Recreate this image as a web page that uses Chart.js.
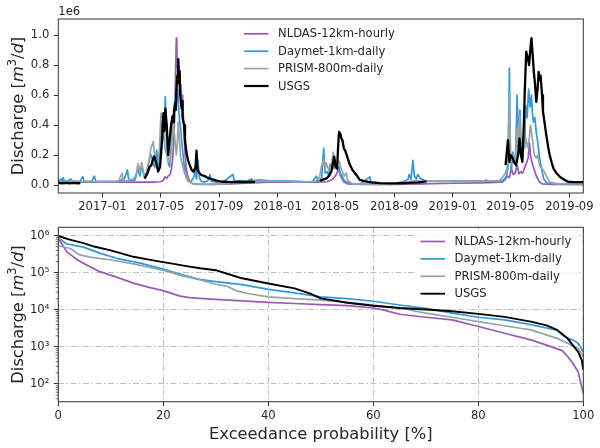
<!DOCTYPE html>
<html>
<head>
<meta charset="utf-8">
<script src="https://cdn.jsdelivr.net/npm/chart.js@4.4.0/dist/chart.umd.min.js"></script>
<style>
html, body { margin: 0; padding: 0; background: #fff; }
#wrap { position: relative; width: 600px; height: 448px; }
canvas { position: absolute; left: 0; top: 0; }
</style>
</head>
<body>
<div id="wrap">
  <canvas id="ts" width="600" height="448"></canvas>
  <canvas id="fdc" width="600" height="448"></canvas>
</div>
<script>
/*------------------------
~~~~~~~Chart data~~~~~~~
------------------------*/
// top panel: [days since 2016-10-01, discharge m3/d]
const startDate = '2016-10-01';
const seriesNames = ['NLDAS-12km-hourly', 'Daymet-1km-daily', 'PRISM-800m-daily', 'USGS'];
const seriesColors = ['#9b59b6', '#3498db', '#95a5a6', '#000000'];
const tsTickLabels = ['2017-01', '2017-05', '2017-09', '2018-01', '2018-05', '2018-09', '2019-01', '2019-05', '2019-09'];
const tsYTicks = [0, 200e3, 400e3, 600e3, 800e3, 1000e3];

const nldasFlow = [[0,20e3],[40,20e3],[92,20e3],[150,20e3],[200,20e3],[212,22e3],[218,28e3],[222,55e3],[226,45e3],[229,60e3],[233,70e3],[236,110e3],[239,200e3],[241,330e3],[243,520e3],[245,850e3],[246,980e3],[247,900e3],[248,800e3],[250,700e3],[251,730e3],[253,600e3],[255,670e3],[257,560e3],[259,600e3],[260,510e3],[262,350e3],[264,220e3],[266,120e3],[269,67e3],[273,30e3],[278,11e3],[290,6e3],[320,5e3],[360,8e3],[400,15e3],[440,20e3],[500,20e3],[540,20e3],[560,22e3],[570,35e3],[576,55e3],[580,75e3],[584,110e3],[587,70e3],[590,50e3],[595,20e3],[602,8e3],[640,4e3],[700,4e3],[760,8e3],[820,12e3],[880,15e3],[925,20e3],[932,40e3],[936,60e3],[940,50e3],[944,110e3],[948,70e3],[952,80e3],[956,130e3],[960,75e3],[964,90e3],[968,80e3],[972,120e3],[976,150e3],[979,180e3],[982,280e3],[984,200e3],[987,150e3],[990,120e3],[993,90e3],[996,60e3],[999,44e3],[1003,20e3],[1008,8e3],[1030,4e3],[1094,3e3]];

const daymetFlow = [[0,25e3],[5,40e3],[8,25e3],[10,50e3],[13,25e3],[20,28e3],[26,40e3],[29,25e3],[45,25e3],[51,55e3],[54,25e3],[70,25e3],[75,60e3],[78,25e3],[100,25e3],[120,25e3],[130,30e3],[133,40e3],[136,25e3],[144,100e3],[147,30e3],[160,35e3],[166,110e3],[170,60e3],[174,130e3],[180,50e3],[186,100e3],[190,180e3],[194,200e3],[198,140e3],[201,120e3],[205,233e3],[208,110e3],[212,250e3],[215,420e3],[219,300e3],[221,380e3],[223,590e3],[226,250e3],[229,150e3],[232,120e3],[235,250e3],[238,450e3],[241,480e3],[243,580e3],[245,500e3],[247,600e3],[249,640e3],[251,500e3],[253,420e3],[255,380e3],[257,300e3],[260,200e3],[262,130e3],[264,90e3],[267,50e3],[270,30e3],[274,20e3],[278,30e3],[283,60e3],[285,100e3],[288,40e3],[291,167e3],[294,50e3],[298,25e3],[305,20e3],[312,30e3],[316,70e3],[319,25e3],[330,20e3],[345,25e3],[364,70e3],[367,25e3],[380,28e3],[395,30e3],[403,40e3],[406,28e3],[420,35e3],[440,28e3],[470,28e3],[500,25e3],[520,22e3],[530,25e3],[538,60e3],[541,25e3],[545,30e3],[549,50e3],[553,245e3],[556,80e3],[560,90e3],[563,60e3],[566,140e3],[570,130e3],[573,110e3],[576,155e3],[579,120e3],[582,100e3],[585,120e3],[588,70e3],[590,70e3],[594,40e3],[600,20e3],[610,10e3],[630,8e3],[649,55e3],[652,10e3],[680,8e3],[700,10e3],[715,20e3],[725,30e3],[729,40e3],[731,70e3],[735,40e3],[739,165e3],[742,60e3],[746,40e3],[749,70e3],[753,50e3],[756,40e3],[759,40e3],[763,30e3],[770,26e3],[780,27e3],[820,27e3],[860,27e3],[889,26e3],[892,35e3],[895,26e3],[915,26e3],[925,30e3],[930,40e3],[934,60e3],[937,120e3],[940,780e3],[942,170e3],[944,100e3],[947,220e3],[950,150e3],[953,180e3],[956,600e3],[959,300e3],[962,500e3],[964,300e3],[966,220e3],[968,200e3],[970,330e3],[972,250e3],[974,530e3],[977,450e3],[980,640e3],[983,520e3],[986,600e3],[988,480e3],[990,420e3],[993,450e3],[996,350e3],[999,290e3],[1002,200e3],[1006,130e3],[1009,80e3],[1011,44e3],[1015,25e3],[1020,12e3],[1040,8e3],[1094,8e3]];

const prismFlow = [[0,22e3],[20,22e3],[40,25e3],[60,22e3],[92,22e3],[110,22e3],[125,22e3],[133,80e3],[136,25e3],[145,30e3],[155,40e3],[160,55e3],[163,80e3],[166,145e3],[170,90e3],[174,150e3],[177,80e3],[180,44e3],[183,80e3],[186,120e3],[190,180e3],[193,245e3],[198,290e3],[202,150e3],[205,130e3],[208,160e3],[211,250e3],[214,480e3],[217,420e3],[219,400e3],[222,250e3],[226,200e3],[229,160e3],[233,150e3],[236,250e3],[239,440e3],[243,300e3],[246,200e3],[248,280e3],[250,420e3],[253,280e3],[255,180e3],[259,130e3],[262,90e3],[268,40e3],[274,20e3],[280,10e3],[285,5e3],[320,5e3],[350,10e3],[380,18e3],[400,24e3],[430,26e3],[470,24e3],[500,22e3],[530,22e3],[540,30e3],[545,60e3],[548,120e3],[553,170e3],[556,100e3],[558,150e3],[561,120e3],[564,100e3],[567,120e3],[570,150e3],[573,220e3],[576,110e3],[580,140e3],[585,160e3],[588,120e3],[592,90e3],[596,60e3],[600,80e3],[603,30e3],[612,10e3],[660,5e3],[700,6e3],[730,20e3],[740,30e3],[760,24e3],[800,24e3],[880,24e3],[920,30e3],[930,70e3],[934,100e3],[937,150e3],[940,620e3],[943,130e3],[946,160e3],[948,200e3],[952,150e3],[955,370e3],[958,250e3],[961,470e3],[964,200e3],[967,180e3],[970,250e3],[973,330e3],[978,250e3],[981,300e3],[984,400e3],[987,330e3],[990,250e3],[992,200e3],[996,180e3],[999,200e3],[1003,130e3],[1007,110e3],[1011,100e3],[1017,60e3],[1024,20e3],[1040,8e3],[1094,8e3]];

// USGS record has gaps (null)
const usgsFlow = [[0,15e3],[8,12e3],[16,15e3],[24,12e3],[32,14e3],[40,12e3],[46,13e3],[47,null],
  [180,44e3],[186,80e3],[190,120e3],[194,133e3],[197,170e3],[200,190e3],[204,150e3],[208,90e3],[212,120e3],[216,290e3],[219,480e3],[221,360e3],[223,510e3],[226,400e3],[229,200e3],[232,300e3],[235,400e3],[238,460e3],[240,420e3],[241,490e3],[244,550e3],[245,500e3],[246,620e3],[248,730e3],[249,680e3],[250,840e3],[252,700e3],[253,760e3],[254,600e3],[257,510e3],[258,560e3],[259,450e3],[262,400e3],[264,300e3],[267,220e3],[270,170e3],[274,133e3],[278,100e3],[282,90e3],[286,120e3],[288,230e3],[290,100e3],[294,80e3],[298,67e3],[305,60e3],[310,50e3],[319,40e3],[325,35e3],[330,30e3],[340,22e3],[347,22e3],[360,20e3],[378,22e3],[390,20e3],[400,22e3],[410,20e3],[411,null],
  [545,30e3],[550,33e3],[555,40e3],[559,44e3],[564,60e3],[569,90e3],[572,140e3],[575,190e3],[578,120e3],[581,110e3],[583,250e3],[585,355e3],[588,340e3],[590,310e3],[592,300e3],[595,245e3],[598,230e3],[600,210e3],[604,170e3],[607,140e3],[613,100e3],[618,80e3],[625,50e3],[628,35e3],[640,25e3],[649,20e3],[670,13e3],[691,11e3],[705,11e3],[730,15e3],[750,18e3],[767,25e3],[768,null],
  [932,133e3],[934,200e3],[937,300e3],[940,155e3],[943,200e3],[947,178e3],[950,150e3],[954,133e3],[958,200e3],[961,310e3],[964,200e3],[967,155e3],[970,400e3],[972,620e3],[975,890e3],[978,850e3],[981,800e3],[984,920e3],[986,980e3],[989,845e3],[991,750e3],[993,690e3],[996,555e3],[999,650e3],[1001,755e3],[1003,700e3],[1005,730e3],[1008,600e3],[1010,490e3],[1014,400e3],[1017,330e3],[1021,250e3],[1024,200e3],[1028,150e3],[1032,110e3],[1038,80e3],[1045,55e3],[1052,40e3],[1062,22e3],[1075,20e3],[1094,20e3]];

// bottom panel: flow duration curves [exceedance %, discharge m3/d]
const fdcXTicks = [0, 20, 40, 60, 80, 100];
const fdcYTicks = [1e2, 1e3, 1e4, 1e5, 1e6];
const fdcYTickLabels = ['10\u00b2', '10\u00b3', '10\u2074', '10\u2075', '10\u2076'];

const nldasFdc = [[0,850e3],[1.6,372e3],[3.5,229e3],[5.4,162e3],[7.9,107e3],[11.1,75.9e3],[14.3,52.5e3],[17.5,39.8e3],[20.1,32.4e3],[23.2,23.4e3],[25,21.4e3],[27,20.4e3],[30,19.1e3],[35,17.4e3],[40,15.8e3],[45,14.8e3],[50,13.8e3],[55,12.9e3],[60,11.2e3],[62,9.77e3],[65,7.59e3],[70,6.31e3],[75,5.37e3],[80,3.55e3],[85,2.34e3],[90,1.55e3],[93,1.12e3],[96,794],[97,550],[98,363],[99,214],[100,56]];
const daymetFdc = [[0,851e3],[1.6,603e3],[4.8,490e3],[7.9,339e3],[11.1,245e3],[15.6,182e3],[20.1,123e3],[23.8,87.1e3],[26.9,66.1e3],[30,57.5e3],[35,47.9e3],[40,35.5e3],[45,28.8e3],[50,22.4e3],[55,20.0e3],[60,17.0e3],[65,13.5e3],[70,11.0e3],[75,8.13e3],[80,6.31e3],[85,5.37e3],[90,3.98e3],[95,2.82e3],[96,2.09e3],[97,1.70e3],[98,1.55e3],[99,1.26e3],[100,741]];
const prismFdc = [[0,525e3],[2.2,457e3],[4.1,302e3],[6,263e3],[9.8,224e3],[14.3,174e3],[20.1,115e3],[23.8,81.3e3],[26.9,64.6e3],[30,49.0e3],[32,43.7e3],[34,32.4e3],[36,27.5e3],[40,22.4e3],[45,20.0e3],[50,18.2e3],[55,16.2e3],[60,13.5e3],[65,11.2e3],[70,8.13e3],[75,6.31e3],[80,4.79e3],[85,3.72e3],[90,2.88e3],[95,1.70e3],[97,1.26e3],[99,912],[100,550]];
const usgsFdc = [[0,977e3],[2,794e3],[4.8,631e3],[7,501e3],[9.8,407e3],[12,331e3],[14.3,269e3],[17,229e3],[19.4,200e3],[22,174e3],[24.4,151e3],[27,132e3],[30,117e3],[32,95.5e3],[35,70.8e3],[40,51.3e3],[45,38.0e3],[48,27.5e3],[50,20.4e3],[55,15.5e3],[60,12.9e3],[65,11.2e3],[70,10.2e3],[75,9.12e3],[80,7.76e3],[85,6.46e3],[90,4.79e3],[93,3.80e3],[95,2.88e3],[97,1.70e3],[98,1.12e3],[99,741],[99.7,447],[100,240]];


/*------------------------
~~~~~~~Helpers~~~~~~~
------------------------*/
const FONT = '"DejaVu Sans", Verdana, sans-serif';
const TEXT = '#262626';
const SPINE = '#333333';

function dayOf(str) {
    const p = str.split('-').map(Number);
    const s = startDate.split('-').map(Number);
    return (Date.UTC(p[0], p[1] - 1, p[2] || 1) - Date.UTC(s[0], s[1] - 1, s[2])) / 86400000;
}

function toPoints(pairs) {
    return pairs.map(p => ({x: p[0], y: p[1]}));
}

function makeDataset(i, pairs, width) {
    return {
        label: seriesNames[i],
        data: toPoints(pairs),
        borderColor: seriesColors[i],
        backgroundColor: seriesColors[i],
        borderWidth: width,
        pointRadius: 0,
        tension: 0,
        borderJoinStyle: 'round',
        spanGaps: false,
        order: 3 - i
    };
}

// "Discharge [m^3/d]" with italic math, rotated
function drawYLabel(ctx, x, yCenter) {
    const size = 16.3;
    const parts = [
        {t: 'Discharge [', f: `${size}px ${FONT}`, dy: 0},
        {t: 'm', f: `italic ${size}px ${FONT}`, dy: 0},
        {t: '3', f: `${size * 0.7}px ${FONT}`, dy: -size * 0.42},
        {t: '/', f: `${size}px ${FONT}`, dy: 0},
        {t: 'd', f: `italic ${size}px ${FONT}`, dy: 0},
        {t: ']', f: `${size}px ${FONT}`, dy: 0}
    ];
    ctx.save();
    let total = 0;
    parts.forEach(p => { ctx.font = p.f; p.w = ctx.measureText(p.t).width; total += p.w; });
    ctx.translate(x, yCenter);
    ctx.rotate(-Math.PI / 2);
    ctx.fillStyle = TEXT;
    ctx.textBaseline = 'alphabetic';
    ctx.textAlign = 'left';
    let cx = -total / 2;
    parts.forEach(p => { ctx.font = p.f; ctx.fillText(p.t, cx, p.dy); cx += p.w; });
    ctx.restore();
}

function drawLegend(ctx, box, lineX, rowY, widths) {
    ctx.save();
    ctx.fillStyle = 'rgba(255,255,255,0.9)';
    ctx.fillRect(box[0], box[1], box[2], box[3]);
    ctx.font = `11.6px ${FONT}`;
    ctx.textBaseline = 'middle';
    seriesNames.forEach((name, i) => {
        const y = rowY + i * 17.4;
        ctx.strokeStyle = seriesColors[i];
        ctx.lineWidth = widths[i];
        ctx.beginPath();
        ctx.moveTo(lineX, y);
        ctx.lineTo(lineX + 24.5, y);
        ctx.stroke();
        ctx.fillStyle = TEXT;
        ctx.fillText(name, lineX + 34, y + 0.5);
    });
    ctx.restore();
}

function drawFrame(chart) {
    const a = chart.chartArea;
    const ctx = chart.ctx;
    ctx.save();
    ctx.strokeStyle = SPINE;
    ctx.lineWidth = 1;
    ctx.strokeRect(a.left, a.top, a.right - a.left, a.bottom - a.top);
    ctx.restore();
}

const tickFont = {family: FONT, size: 11.6};


/*------------------------
~~~~~~~Time series~~~~~~~
------------------------*/
const tsPlugin = {
    id: 'tsDecor',
    afterDraw(chart) {
        const ctx = chart.ctx;
        drawFrame(chart);
        drawYLabel(ctx, 23, (chart.chartArea.top + chart.chartArea.bottom) / 2);
        ctx.save();
        ctx.font = `11.6px ${FONT}`;
        ctx.fillStyle = TEXT;
        ctx.textBaseline = 'alphabetic';
        ctx.fillText('1e6', chart.chartArea.left, 15);
        ctx.restore();
        drawLegend(ctx, [239, 21, 163, 77], 244, 33.8, [1.7, 1.7, 1.7, 2.2]);
    }
};

new Chart(document.getElementById('ts'), {
    type: 'line',
    data: {
        datasets: [
            makeDataset(0, nldasFlow, 1.7),
            makeDataset(1, daymetFlow, 1.7),
            makeDataset(2, prismFlow, 1.7),
            makeDataset(3, usgsFlow, 2.3)
        ]
    },
    options: {
        responsive: false,
        animation: false,
        layout: {padding: {left: 0, top: 19, right: 16.7, bottom: 0}},
        plugins: {legend: {display: false}, tooltip: {enabled: false}},
        scales: {
            x: {
                type: 'linear',
                min: 0,
                max: 1094,
                afterFit: s => { s.height = 448 - 193; },
                afterBuildTicks: s => { s.ticks = tsTickLabels.map(l => ({value: dayOf(l + '-01')})); },
                ticks: {callback: (v, i) => tsTickLabels[i], autoSkip: false, maxRotation: 0, padding: 3, font: tickFont, color: TEXT},
                grid: {drawOnChartArea: false, tickLength: 4.5, tickColor: SPINE, tickWidth: 1},
                border: {display: false}
            },
            y: {
                type: 'linear',
                min: -53e3,
                max: 1107e3,
                afterFit: s => { s.width = 58.3; },
                afterBuildTicks: s => { s.ticks = tsYTicks.map(v => ({value: v})); },
                ticks: {callback: v => (v / 1e6).toFixed(1), padding: 4.5, font: tickFont, color: TEXT},
                grid: {drawOnChartArea: false, tickLength: 4.5, tickColor: SPINE, tickWidth: 1},
                border: {display: false}
            }
        }
    },
    plugins: [tsPlugin]
});


/*------------------------
~~~~~~~Flow duration~~~~~~~
------------------------*/
const fdcPlugin = {
    id: 'fdcDecor',
    afterDraw(chart) {
        const ctx = chart.ctx;
        const y = chart.scales.y;
        const a = chart.chartArea;
        // log minor ticks
        ctx.save();
        ctx.strokeStyle = SPINE;
        ctx.lineWidth = 0.7;
        for (let k = 1; k <= 6; k++) {
            for (let m = 2; m <= 9; m++) {
                const v = m * Math.pow(10, k);
                if (v < y.min || v > y.max) continue;
                const py = y.getPixelForValue(v);
                ctx.beginPath();
                ctx.moveTo(a.left - 2.6, py);
                ctx.lineTo(a.left, py);
                ctx.stroke();
            }
        }
        ctx.restore();
        drawFrame(chart);
        drawYLabel(ctx, 23, (a.top + a.bottom) / 2);
        ctx.save();
        ctx.font = `16.3px ${FONT}`;
        ctx.fillStyle = TEXT;
        ctx.textAlign = 'center';
        ctx.textBaseline = 'alphabetic';
        ctx.fillText('Exceedance probability [%]', (a.left + a.right) / 2, 438.5);
        ctx.restore();
        drawLegend(ctx, [416, 230, 162, 76], 420.5, 241.5, [1.7, 1.7, 1.7, 1.9]);
    }
};

const gridStyle = {color: '#b5b5b5', lineWidth: 0.9, tickLength: 4.5, tickColor: SPINE, tickWidth: 1};
const gridDash = {display: false, dash: [6, 2.5, 1.5, 2.5]};

new Chart(document.getElementById('fdc'), {
    type: 'line',
    data: {
        datasets: [
            makeDataset(0, nldasFdc, 1.7),
            makeDataset(1, daymetFdc, 1.7),
            makeDataset(2, prismFdc, 1.7),
            makeDataset(3, usgsFdc, 1.9)
        ]
    },
    options: {
        responsive: false,
        animation: false,
        layout: {padding: {left: 0, top: 227.3, right: 16.7, bottom: 0}},
        plugins: {legend: {display: false}, tooltip: {enabled: false}},
        scales: {
            x: {
                type: 'linear',
                min: 0,
                max: 100,
                afterFit: s => { s.height = 448 - 401.7; },
                afterBuildTicks: s => { s.ticks = fdcXTicks.map(v => ({value: v})); },
                ticks: {callback: v => String(v), autoSkip: false, maxRotation: 0, padding: 3, font: tickFont, color: TEXT},
                grid: gridStyle,
                border: gridDash
            },
            y: {
                type: 'logarithmic',
                min: 33.3,
                max: 1.68e6,
                afterFit: s => { s.width = 58.3; },
                afterBuildTicks: s => { s.ticks = fdcYTicks.map(v => ({value: v})); },
                ticks: {callback: (v, i) => fdcYTickLabels[i], padding: 4.5, font: tickFont, color: TEXT},
                grid: gridStyle,
                border: gridDash
            }
        }
    },
    plugins: [fdcPlugin]
});
</script>
</body>
</html>
